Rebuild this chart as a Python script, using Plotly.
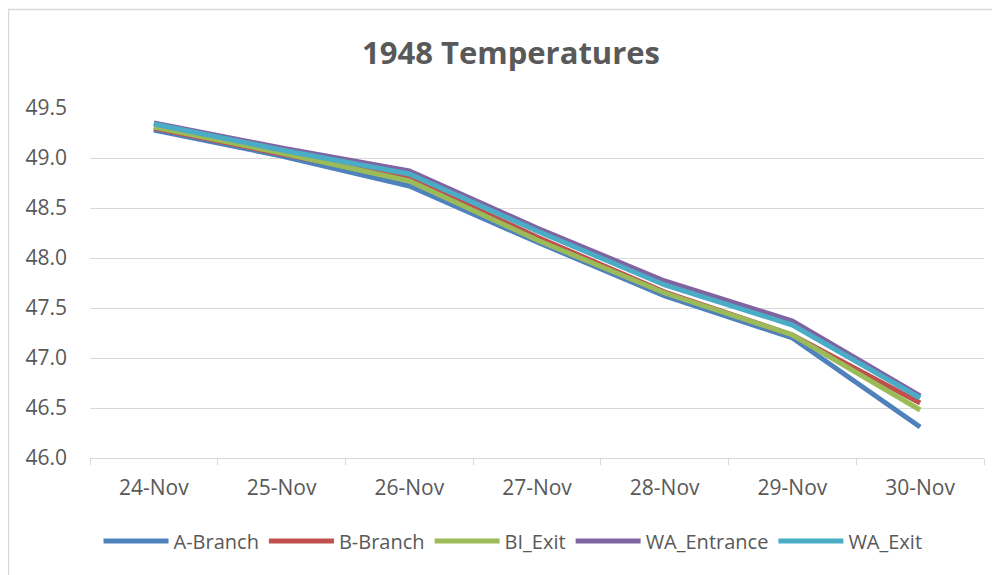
import plotly.graph_objects as go

dates = ["24-Nov", "25-Nov", "26-Nov", "27-Nov", "28-Nov", "29-Nov", "30-Nov"]
a_branch = [49.28, 49.02, 48.72, 48.16, 47.62, 47.20, 46.31]
b_branch = [49.30, 49.04, 48.80, 48.21, 47.66, 47.23, 46.55]
bi_exit = [49.31, 49.05, 48.77, 48.18, 47.65, 47.23, 46.48]
wa_entrance = [49.35, 49.10, 48.87, 48.30, 47.77, 47.37, 46.62]
wa_exit = [49.34, 49.08, 48.84, 48.27, 47.73, 47.33, 46.60]

series = [
    ("A-Branch", a_branch, "#4F81BD"),
    ("B-Branch", b_branch, "#C0504D"),
    ("BI_Exit", bi_exit, "#9BBB59"),
    ("WA_Entrance", wa_entrance, "#8064A2"),
    ("WA_Exit", wa_exit, "#4BACC6"),
]

FONT = "Open Sans"
TXT = "#595959"
fig = go.Figure()
for name, vals, col in series:
    fig.add_trace(go.Scatter(x=dates, y=vals, name=name, mode="lines",
                             line=dict(color=col, width=5)))

# page has an 8px body margin; figure coordinates are page minus 8
W, H = 992, 567
L, R, T, B = 82, 16, 100, 117
pw, ph = W - L - R, H - T - B

def px2paper_x(px):
    return (px - 8 - L) / pw

def px2paper_y(py):
    return (H - B - (py - 8)) / ph

fig.update_layout(
    width=W, height=H,
    margin=dict(l=L, r=R, t=T, b=B),
    paper_bgcolor="white", plot_bgcolor="white",
    title=dict(text="<b>1948 Temperatures</b>", x=(511 - 8) / W, xanchor="center",
               y=1 - (53 - 8) / H, yanchor="middle",
               font=dict(family=FONT, size=31, color=TXT)),
    font=dict(family=FONT, size=21, color=TXT),
    xaxis=dict(showgrid=False, showline=True, linecolor="#D9D9D9", linewidth=1,
               range=[-0.5, 6.5],
               ticks="outside", tickson="boundaries", ticklen=6, tickcolor="#D9D9D9",
               tickfont=dict(family=FONT, size=21, color=TXT),
               ticklabelstandoff=11, fixedrange=True),
    yaxis=dict(range=[46.0, 49.5], dtick=0.5, tick0=46.0, tickformat=".1f",
               showgrid=True, gridcolor="#D9D9D9", gridwidth=1, zeroline=False,
               showline=False, ticks="", ticklabelstandoff=22,
               tickfont=dict(family=FONT, size=21, color=TXT)),
    legend=dict(orientation="h", x=px2paper_x(513), xanchor="center",
                y=px2paper_y(541), yanchor="middle",
                font=dict(family=FONT, size=20, color=TXT),
                itemwidth=65, tracegroupgap=0),
    showlegend=True,
)

fig.add_shape(type="rect", xref="paper", yref="paper",
              x0=px2paper_x(8.5), x1=px2paper_x(1010),
              y0=px2paper_y(590), y1=px2paper_y(9.5),
              line=dict(color="#D9D9D9", width=1.5), fillcolor="rgba(0,0,0,0)",
              layer="below")

fig.write_html("out.html")
